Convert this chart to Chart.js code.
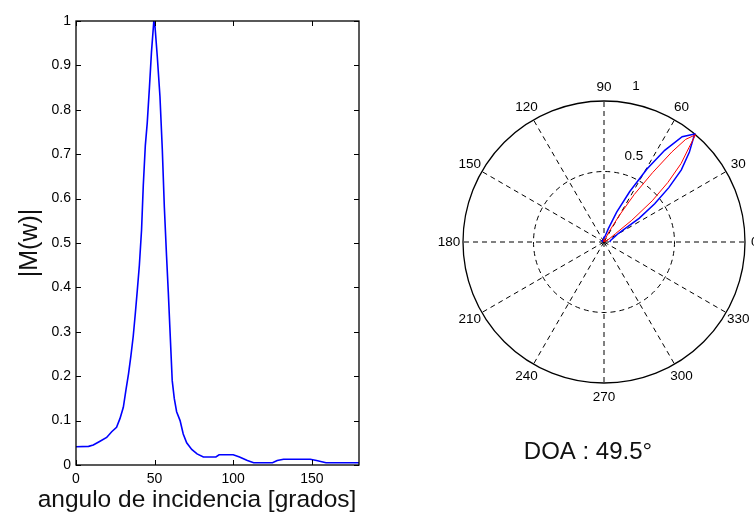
<!DOCTYPE html>
<html>
<head>
<meta charset="utf-8">
<script src="https://cdn.jsdelivr.net/npm/chart.js@4.4.1/dist/chart.umd.min.js"></script>
<style>
    html, body { margin: 0; padding: 0; background: #fff; }
    #wrap { position: relative; width: 754px; height: 524px; overflow: hidden; }
    #left { position: absolute; left: 0; top: 0; width: 430px; height: 524px; }
    #right { position: absolute; left: 380px; top: 0; width: 374px; height: 524px; }
</style>
</head>
<body>
<div id="wrap">
    <div id="left"><canvas id="magChart"></canvas></div>
    <div id="right"><canvas id="polarChart"></canvas></div>
</div>
<script>
// |M(w)| vs angle of incidence (left plot)
const incAngles = [0, 8, 11, 15, 19.5, 22.7, 25.8, 28, 30.1, 31.8, 33.4, 34.9, 36.4, 37.7, 39, 40.3, 41.7, 42.8,
    44.1, 45.3, 46.7, 48, 49.5, 50.2, 51.7, 53.4, 54.9, 56.2, 57.6, 58.7, 59.7, 61.2, 62.5, 64, 66.2, 68.2, 70.4,
    73.6, 77, 81, 89, 91, 100, 104, 109, 113, 125, 128, 132, 149, 153, 159, 180];
const magValues = [0.041, 0.042, 0.045, 0.053, 0.062, 0.075, 0.085, 0.105, 0.13, 0.17, 0.205, 0.245, 0.29, 0.34,
    0.394, 0.45, 0.53, 0.63, 0.72, 0.77, 0.85, 0.93, 1.0, 0.99, 0.92, 0.83, 0.71, 0.58, 0.47, 0.39, 0.31, 0.19,
    0.15, 0.12, 0.10, 0.07, 0.05, 0.035, 0.025, 0.018, 0.018, 0.023, 0.023, 0.018, 0.01, 0.005, 0.005, 0.01,
    0.013, 0.013, 0.01, 0.005, 0.005];
const xTicks = [0, 50, 100, 150];
const yTicks = [0, 0.1, 0.2, 0.3, 0.4, 0.5, 0.6, 0.7, 0.8, 0.9, 1];
const xLabel = 'angulo de incidencia [grados]';
const yLabel = '|M(w)|';

// polar plot (right)
const blueAngles = [0, 15, 25, 30, 32, 34, 37, 40, 43, 46.5, 50, 53.4, 56.5, 59.5, 63, 67, 72, 80, 90, 100,
    120, 150, 180];
const blueRadii = [0.04, 0.05, 0.08, 0.11, 0.15, 0.3, 0.45, 0.6, 0.75, 0.88, 1.0, 0.93, 0.78, 0.6, 0.4, 0.23,
    0.1, 0.04, 0.03, 0.02, 0.01, 0.015, 0.005];
const redAngles = [0, 30, 36, 38, 40.5, 43, 45.5, 48, 49.5, 51.5, 53, 55, 57.5, 60, 64, 70, 90];
const redRadii = [0, 0.04, 0.1, 0.25, 0.45, 0.62, 0.78, 0.9, 1.0, 0.93, 0.8, 0.6, 0.4, 0.22, 0.08, 0.02, 0];
const spokeAngles = [0, 30, 60, 90, 120, 150, 180, 210, 240, 270, 300, 330];
const ringValues = [0.5, 1];
const doaText = 'DOA : 49.5°';

const FONT = "'Liberation Sans', Arial, sans-serif";

function toXY(angles, radii) {
    return angles.map((a, i) => ({
        x: radii[i] * Math.cos(a * Math.PI / 180),
        y: radii[i] * Math.sin(a * Math.PI / 180)
    }));
}

function toXYLinear(xs, ys) {
    return xs.map((v, i) => ({ x: v, y: ys[i] }));
}

// MATLAB-like box with inward ticks, plus the x label
const boxPlugin = {
    id: 'box',
    afterDatasetsDraw(chart) {
        const {ctx, chartArea: a, scales: {x, y}} = chart;
        const len = 5;
        ctx.save();
        ctx.strokeStyle = '#000';
        ctx.lineWidth = 1.3;
        ctx.strokeRect(a.left, a.top, a.right - a.left, a.bottom - a.top);
        ctx.lineWidth = 1;
        ctx.beginPath();
        xTicks.forEach(v => {
            const px = Math.round(x.getPixelForValue(v)) + 0.5;
            ctx.moveTo(px, a.bottom); ctx.lineTo(px, a.bottom - len);
            ctx.moveTo(px, a.top); ctx.lineTo(px, a.top + len);
        });
        yTicks.forEach(v => {
            const py = Math.round(y.getPixelForValue(v)) + 0.5;
            ctx.moveTo(a.left, py); ctx.lineTo(a.left + len, py);
            ctx.moveTo(a.right, py); ctx.lineTo(a.right - len, py);
        });
        ctx.stroke();

        ctx.fillStyle = '#111';
        ctx.font = '24.5px ' + FONT;
        ctx.textAlign = 'center';
        ctx.textBaseline = 'middle';
        ctx.fillText(xLabel, 197, 500);
        ctx.restore();
    }
};

new Chart(document.getElementById('magChart'), {
    type: 'scatter',
    data: {
        datasets: [{
            data: toXYLinear(incAngles, magValues),
            showLine: true,
            borderColor: '#0000ff',
            borderWidth: 1.6,
            pointRadius: 0,
            tension: 0
        }]
    },
    options: {
        responsive: true,
        maintainAspectRatio: false,
        animation: false,
        layout: { padding: { top: 21, right: 71, left: 0, bottom: 0 } },
        plugins: { legend: { display: false }, tooltip: { enabled: false } },
        scales: {
            x: {
                type: 'linear', min: 0, max: 180,
                afterBuildTicks: s => { s.ticks = xTicks.map(v => ({ value: v })); },
                afterFit: s => { s.height = 59; },
                grid: { display: false, drawTicks: false },
                border: { display: false },
                ticks: { color: '#000', padding: 6, font: { family: FONT, size: 14 } }
            },
            y: {
                type: 'linear', min: 0, max: 1,
                afterBuildTicks: s => { s.ticks = yTicks.map(v => ({ value: v })); },
                afterFit: s => { s.width = 76; },
                grid: { display: false, drawTicks: false },
                border: { display: false },
                ticks: {
                    color: '#000', padding: 5, font: { family: FONT, size: 14 },
                    callback: v => String(Math.round(v * 10) / 10)
                },
                title: {
                    display: true, text: yLabel, color: '#111',
                    font: { family: FONT, size: 25 }, padding: { top: 15, bottom: 0 }
                }
            }
        }
    },
    plugins: [boxPlugin]
});

// polar grid, labels and DOA caption
const polarGrid = {
    id: 'polarGrid',
    beforeDatasetsDraw(chart) {
        const {ctx, scales: {x, y}} = chart;
        const cx = x.getPixelForValue(0), cy = y.getPixelForValue(0);
        const R = x.getPixelForValue(1) - cx;
        ctx.save();
        ctx.strokeStyle = '#000';
        ctx.lineWidth = 1;
        ctx.setLineDash([5, 4]);
        spokeAngles.forEach(a => {
            const t = a * Math.PI / 180;
            ctx.beginPath();
            ctx.moveTo(cx, cy);
            ctx.lineTo(cx + R * Math.cos(t), cy - R * Math.sin(t));
            ctx.stroke();
        });
        ctx.beginPath();
        ctx.arc(cx, cy, R * ringValues[0], 0, Math.PI * 2);
        ctx.stroke();
        ctx.setLineDash([]);
        ctx.lineWidth = 1.3;
        ctx.beginPath();
        ctx.arc(cx, cy, R * ringValues[1], 0, Math.PI * 2);
        ctx.stroke();
        ctx.restore();
    },
    afterDraw(chart) {
        const {ctx, scales: {x, y}} = chart;
        const cx = x.getPixelForValue(0), cy = y.getPixelForValue(0);
        const R = x.getPixelForValue(1) - cx;
        const at = (r, a) => [cx + R * r * Math.cos(a * Math.PI / 180), cy - R * r * Math.sin(a * Math.PI / 180)];
        ctx.save();
        ctx.fillStyle = '#000';
        ctx.textAlign = 'center';
        ctx.textBaseline = 'middle';
        ctx.font = '13.5px ' + FONT;
        spokeAngles.forEach(a => {
            const [px, py] = at(a === 0 ? 1.07 : 1.1, a);
            ctx.fillText(String(a), px, py);
        });
        let [px, py] = at(1.126, 78.4);
        ctx.fillText(String(ringValues[1]), px, py);
        [px, py] = at(0.645, 70.8);
        ctx.fillText(String(ringValues[0]), px, py);
        ctx.font = '24px ' + FONT;
        ctx.fillStyle = '#111';
        ctx.fillText(doaText, cx - 16, cy + 210);
        ctx.restore();
    }
};

const PCX = 224, PCY = 242, PR = 141, PSPAN = 1.2;
new Chart(document.getElementById('polarChart'), {
    type: 'scatter',
    data: {
        datasets: [{
            data: toXY(redAngles, redRadii),
            showLine: true,
            borderColor: '#ff0000',
            borderWidth: 1,
            pointRadius: 0
        }, {
            data: toXY(blueAngles, blueRadii),
            showLine: true,
            borderColor: '#0000ff',
            borderWidth: 1.5,
            pointRadius: 0
        }]
    },
    options: {
        responsive: true,
        maintainAspectRatio: false,
        animation: false,
        layout: {
            padding: {
                left: PCX - PR * PSPAN, right: 0,
                top: PCY - PR * PSPAN, bottom: 524 - PCY - PR * PSPAN
            }
        },
        plugins: { legend: { display: false }, tooltip: { enabled: false } },
        scales: {
            x: { type: 'linear', display: false, min: -PSPAN, max: (374 - PCX) / PR },
            y: { type: 'linear', display: false, min: -PSPAN, max: PSPAN }
        }
    },
    plugins: [polarGrid]
});
</script>
</body>
</html>
